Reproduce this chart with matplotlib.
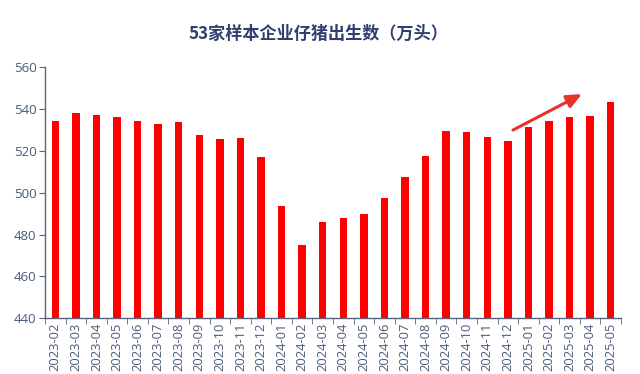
import matplotlib
matplotlib.use("Agg")
import matplotlib.pyplot as plt
import numpy as np

plt.rcParams['font.family'] = ['Noto Sans CJK SC', 'DejaVu Sans']

months = ["2023-02", "2023-03", "2023-04", "2023-05", "2023-06", "2023-07", "2023-08",
          "2023-09", "2023-10", "2023-11", "2023-12", "2024-01", "2024-02", "2024-03",
          "2024-04", "2024-05", "2024-06", "2024-07", "2024-08", "2024-09", "2024-10",
          "2024-11", "2024-12", "2025-01", "2025-02", "2025-03", "2025-04", "2025-05"]
births = [534.3, 538.0, 537.1, 536.1, 534.3, 533.0, 534.0, 527.6, 525.9, 526.3,
          517.0, 493.6, 475.2, 486.1, 488.0, 489.9, 497.4, 507.4, 517.6, 529.4,
          529.2, 526.8, 524.9, 531.6, 534.2, 536.1, 536.9, 543.3]
title = "53家样本企业仔猪出生数（万头）"

fig = plt.figure(figsize=(6.4, 3.74), dpi=100)
ax = fig.add_axes([0.0703, 0.149, 0.900, 0.671])

x = np.arange(len(months))
ax.bar(x, births, width=0.36, color="#ff0000", zorder=2)

ax.set_ylim(440, 560)
ax.set_yticks(np.arange(440, 561, 20))
ax.set_xlim(-0.5, len(months) - 0.5)
ax.set_xticks(x)
ax.set_xticklabels(months, rotation=90, family=['Open Sans', 'DejaVu Sans'])
ax.set_yticklabels([str(v) for v in range(440, 561, 20)], family=['Open Sans', 'DejaVu Sans'])
ax.set_xticks(np.arange(-0.5, len(months), 1), minor=True)
ax.tick_params(axis='x', which='major', length=0, pad=3, labelsize=9.3, labelcolor="#4a5a7a")
ax.tick_params(axis='x', which='minor', length=4, color="#5a6478", direction='out')
ax.tick_params(axis='y', length=4, color="#5a6478", labelsize=9.5, labelcolor="#4a5a7a", pad=2)

for s in ["top", "right"]:
    ax.spines[s].set_visible(False)
for s in ["left", "bottom"]:
    ax.spines[s].set_color("#5a6478")
    ax.spines[s].set_linewidth(1.0)

ax.annotate("", xy=(25.6, 547.2), xytext=(22.25, 530.0),
            arrowprops=dict(arrowstyle="-|>,head_length=0.9,head_width=0.4",
                            color="#e8322a", lw=2.2, shrinkA=0, shrinkB=0))

fig.text(0.497, 0.91, title, ha='center', va='center', fontsize=12.3,
         fontweight='bold', color="#2f3f6f")

fig.savefig("out.png", dpi=100)
